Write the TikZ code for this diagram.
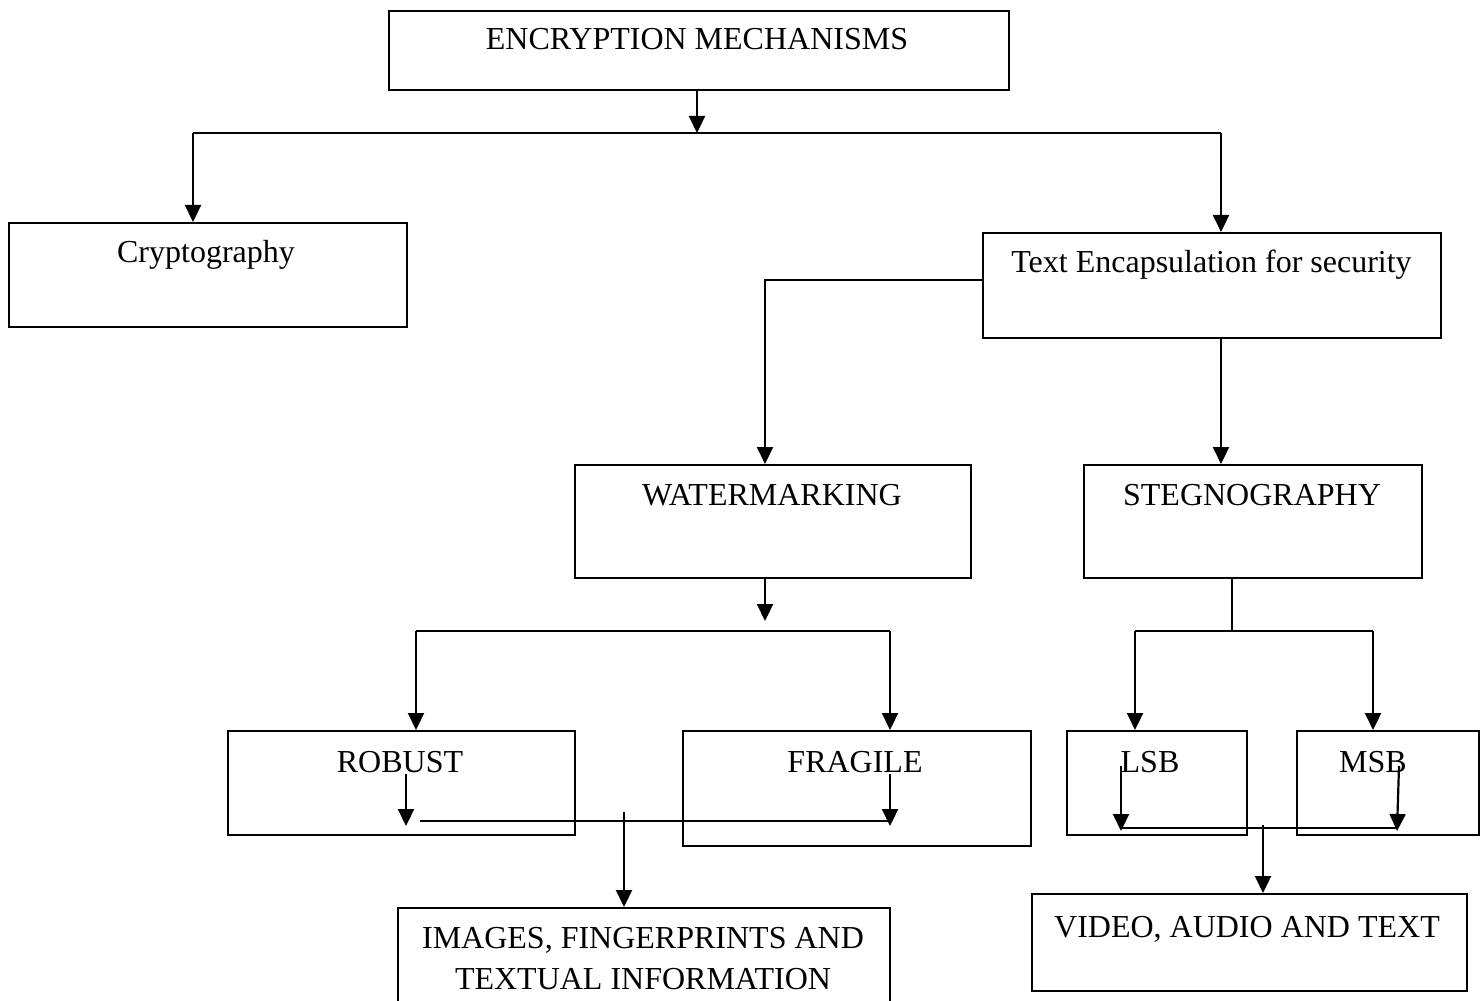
\documentclass[tikz,border=0pt]{standalone}
\usepackage{fontspec}
\setmainfont{Liberation Serif}
\usetikzlibrary{arrows.meta}
\begin{document}
\begin{tikzpicture}[x=0.5pt,y=-0.5pt,
  box/.style={draw, line width=1.1pt, inner sep=0pt, anchor=north west},
  lbl/.style={anchor=base, inner sep=0pt, font=\fontsize{16}{21}\selectfont},
  ln/.style={line width=1.1pt},
  arr/.style={line width=1.1pt, -{Triangle[length=8.5pt,width=8pt]}}]
\clip (0,0) rectangle (1481,1000);
\fill[white] (0,0) rectangle (1481,1000);
% boxes
\node[box, minimum width=310pt, minimum height=39.5pt] (enc) at (388,10) {};
\node[box, minimum width=199pt, minimum height=52pt] (crypto) at (8,222) {};
\node[box, minimum width=229pt, minimum height=52.5pt] (te) at (982,232) {};
\node[box, minimum width=198pt, minimum height=56.5pt] (wm) at (574,464) {};
\node[box, minimum width=169pt, minimum height=56.5pt] (steg) at (1083,464) {};
\node[box, minimum width=173.5pt, minimum height=52pt] (robust) at (227,730) {};
\node[box, minimum width=174pt, minimum height=57.5pt] (fragile) at (682,730) {};
\node[box, minimum width=90pt, minimum height=52pt] (lsb) at (1066,730) {};
\node[box, minimum width=91pt, minimum height=52pt] (msb) at (1296,730) {};
\node[box, minimum width=246pt, minimum height=51.5pt] (img) at (397,907) {};
\node[box, minimum width=217.5pt, minimum height=48.5pt] (vid) at (1031,893) {};
% texts
\node[lbl] (encT) at (697,50) {ENCRYPTION MECHANISMS};
\node[lbl] (cryptoT) at (206,263) {Cryptography};
\node[lbl] (teT) at (1211.5,272) {Text Encapsulation for security};
\node[lbl] (wmT) at (772,505) {WATERMARKING};
\node[lbl] (stegT) at (1252,505) {STEGNOGRAPHY};
\node[lbl] (robustT) at (400,772) {ROBUST};
\node[lbl] (fragileT) at (855,772) {FRAGILE};
\node[lbl] (lsbT) at (1150,772) {LSB};
\node[lbl] (msbT) at (1373,772) {MSB};
\node[lbl] (imgT1) at (643,948) {IMAGES, FINGERPRINTS AND};
\node[lbl] (imgT2) at (643,989) {TEXTUAL INFORMATION};
\node[lbl] (vidT) at (1247,937) {VIDEO, AUDIO AND TEXT};
% coordinates
\coordinate (j1) at (697,133);
\coordinate (jL) at (193,133);
\coordinate (jR) at (1221,133);
\coordinate (wmIn) at (765,464);
\coordinate (stIn) at (1221,464);
\coordinate (wmA) at (765,621);
\coordinate (rbJ) at (416,631);
\coordinate (frJ) at (890,631);
\coordinate (rbIa) at (406,774);
\coordinate (rbIb) at (406,826);
\coordinate (frIa) at (890,774);
\coordinate (frIb) at (890,826);
\coordinate (hL) at (420,821);
\coordinate (hR) at (890,821);
\coordinate (imgA) at (624,812);
\coordinate (sj) at (1232,631);
\coordinate (lsJ) at (1135,631);
\coordinate (msJ) at (1373,631);
\coordinate (lsIa) at (1121,766);
\coordinate (lsIb) at (1121,831);
\coordinate (msIa) at (1399,766);
\coordinate (msIb) at (1397,831);
\coordinate (h2L) at (1121,828);
\coordinate (h2R) at (1397,828);
\coordinate (vidA) at (1263,825);
% connectors
\draw[arr] (enc.south -| j1) -- (j1);
\draw[ln] (jL) -- (jR);
\draw[arr] (jL) -- (crypto.north -| jL);
\draw[arr] (jR) -- (te.north -| jR);
\draw[arr] (te.west |- 0,280) -| (wmIn);
\draw[arr] (te.south -| stIn) -- (stIn);
\draw[arr] (wm.south -| wmA) -- (wmA);
\draw[ln] (rbJ) -- (frJ);
\draw[arr] (rbJ) -- (robust.north -| rbJ);
\draw[arr] (frJ) -- (fragile.north -| frJ);
\draw[arr] (rbIa) -- (rbIb);
\draw[arr] (frIa) -- (frIb);
\draw[ln] (hL) -- (hR);
\draw[arr] (imgA) -- (img.north -| imgA);
\draw[ln] (steg.south -| sj) -- (sj);
\draw[ln] (lsJ) -- (msJ);
\draw[arr] (lsJ) -- (lsb.north -| lsJ);
\draw[arr] (msJ) -- (msb.north -| msJ);
\draw[arr] (lsIa) -- (lsIb);
\draw[arr] (msIa) -- (msIb);
\draw[ln] (h2L) -- (h2R);
\draw[arr] (vidA) -- (vid.north -| vidA);
\end{tikzpicture}
\end{document}
